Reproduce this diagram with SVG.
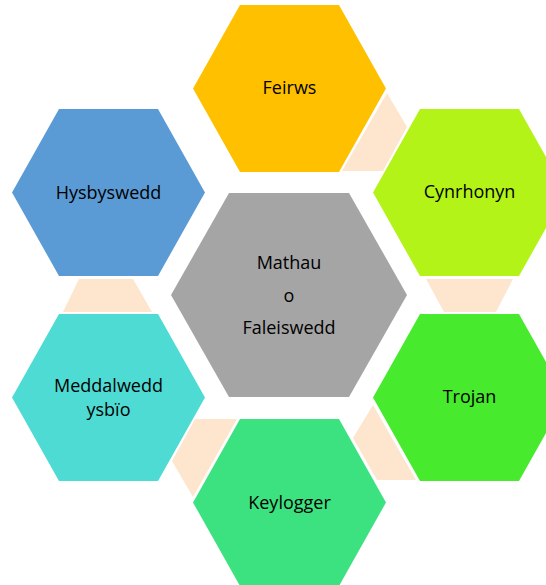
<svg xmlns="http://www.w3.org/2000/svg" width="546" height="585" viewBox="0 0 546 585">
<style>
.lbl{font-family:"Open Sans","Liberation Sans",sans-serif;font-size:18px;fill:#000;text-anchor:middle}
.con{fill:#FDE6CD}
</style>
<rect width="546" height="585" fill="#fff"/>
<g id="connectors">
<polygon class="con" points="387,93 407,127 383,171 342,171"/>
<polygon class="con" points="426,279 513,279 496,312 444,312"/>
<polygon class="con" points="373,405 353,438 377,480 416,480"/>
<polygon class="con" points="195,419 237,419 193,497 172,461"/>
<polygon class="con" points="79,279 133,279 152,312 63,312"/>
</g>
<g id="feirws">
<polygon fill="#FFC000" points="193,88.5 240,5 339,5 386,88.5 339,172 240,172"/>
<text class="lbl" x="289.5" y="94">Feirws</text>
</g>
<g id="cynrhonyn">
<polygon fill="#B3F318" points="373,192.5 420,109 519,109 566,192.5 519,276 420,276"/>
<text class="lbl" x="469.5" y="198">Cynrhonyn</text>
</g>
<g id="hysbyswedd">
<polygon fill="#5B9BD5" points="12,192.5 59,109 158,109 205,192.5 158,276 59,276"/>
<text class="lbl" x="108.5" y="199">Hysbyswedd</text>
</g>
<g id="mathau">
<polygon fill="#A5A5A5" points="171,295 229,193 349,193 407,295 349,397 229,397"/>
<text class="lbl" x="289" y="269">Mathau</text>
<text class="lbl" x="289" y="302">o</text>
<text class="lbl" x="289" y="334">Faleiswedd</text>
</g>
<g id="meddalwedd">
<polygon fill="#4DDBD4" points="12,397.5 59,314 158,314 205,397.5 158,481 59,481"/>
<text class="lbl" x="108.5" y="392">Meddalwedd</text>
<text class="lbl" x="108.5" y="416">ysbïo</text>
</g>
<g id="trojan">
<polygon fill="#47EA2D" points="373,397.5 420,314 519,314 566,397.5 519,481 420,481"/>
<text class="lbl" x="469.5" y="403">Trojan</text>
</g>
<g id="keylogger">
<polygon fill="#3DE280" points="193,502.5 240,419 339,419 386,502.5 339,586 240,586"/>
<text class="lbl" x="289.5" y="509">Keylogger</text>
</g>
</svg>
